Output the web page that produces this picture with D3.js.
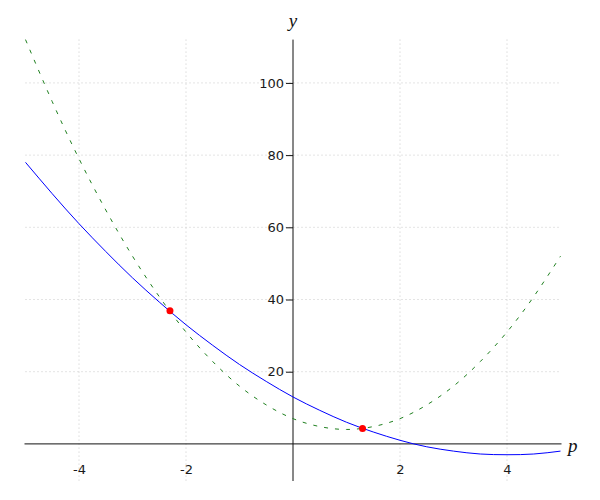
<!DOCTYPE html>
<html>
<head>
<meta charset="utf-8">
<script src="https://cdn.jsdelivr.net/npm/d3@7"></script>
<style>
  body { margin: 0; background: #fff; }
  .grid line { stroke: #c8c8c8; stroke-dasharray: 1,3; }
  .lbl { font-family: "Liberation Serif", serif; font-style: italic; font-size: 19px; fill: #111; }
</style>
</head>
<body>
<svg id="chart" width="600" height="500"></svg>
<script>
// values
var pVals =     [-5, -4.5, -4, -3.5, -3, -2.5, -2, -1.5, -1, -0.5, 0, 0.5, 1, 1.5, 2, 2.5, 3, 3.5, 4, 4.5, 5];
var blueVals =  [78, 69.3, 61, 53.3, 46, 39.3, 33, 27.3, 22, 17.3, 13, 9.3, 6, 3.3, 1, -0.8, -2, -2.8, -3, -2.8, -2];
var greenVals = [112, 94.8, 79, 64.8, 52, 40.8, 31, 22.8, 16, 10.8, 7, 4.8, 4, 4.8, 7, 10.8, 16, 22.8, 31, 40.8, 52];
var crossP = [-2.3, 1.3];
var crossY = [36.9, 4.3];
var xTicks = [-4, -2, 2, 4];
var yTicks = [20, 40, 60, 80, 100];

var svg = d3.select("#chart");

var x = d3.scaleLinear().domain([-5, 5]).range([25.5, 560.5]);
var y = d3.scaleLinear().domain([-10, 112]).range([480, 39.6]);

var line = function(vals) {
    return d3.line()
        .curve(d3.curveNatural)
        .x((d, i) => x(pVals[i]))
        .y(d => y(d))(vals);
};

// grid
var grid = svg.append("g").attr("class", "grid");
grid.selectAll(".v")
    .data(xTicks)
  .enter().append("line")
    .attr("x1", d => x(d)).attr("x2", d => x(d))
    .attr("y1", y(112)).attr("y2", 483);
grid.selectAll(".h")
    .data(yTicks)
  .enter().append("line")
    .attr("x1", x(-5)).attr("x2", x(5))
    .attr("y1", d => y(d)).attr("y2", d => y(d));

// axes
var xAxis = svg.append("g")
    .attr("transform", "translate(0," + y(0) + ")")
    .call(d3.axisBottom(x).tickValues(xTicks).tickSize(0).tickPadding(21)
        .tickFormat(d => d < 0 ? "-" + Math.abs(d) : d));
xAxis.select(".domain").attr("stroke", "#111").attr("d", "M" + (x(-5) - 1) + ",0H" + (x(5) + 1));

var yAxis = svg.append("g")
    .attr("transform", "translate(" + x(0) + ",0)")
    .call(d3.axisLeft(y).tickValues(yTicks).tickSize(7).tickPadding(2));
yAxis.select(".domain").attr("stroke", "#111").attr("d", "M0," + y(112) + "V" + 481);
yAxis.selectAll(".tick line").attr("stroke", "#111");

svg.selectAll(".tick text")
    .attr("font-family", "DejaVu Sans, sans-serif")
    .style("font-size", "13px")
    .attr("fill", "#1a1a1a");

svg.append("text").attr("class", "lbl")
    .attr("x", x(0)).attr("y", 27).attr("text-anchor", "middle").text("y");
svg.append("text").attr("class", "lbl")
    .attr("x", 568).attr("y", 452).text("p");

// curves
svg.append("path")
    .attr("d", line(greenVals))
    .attr("fill", "none")
    .attr("stroke", "#1f801f")
    .attr("stroke-width", 1)
    .attr("stroke-dasharray", "4,7");

svg.append("path")
    .attr("d", line(blueVals))
    .attr("fill", "none")
    .attr("stroke", "#0000ff")
    .attr("stroke-width", 1);

svg.selectAll(".dot")
    .data(crossP)
  .enter().append("circle")
    .attr("cx", d => x(d))
    .attr("cy", (d, i) => y(crossY[i]))
    .attr("r", 3.5)
    .attr("fill", "#ff0000");
</script>
</body>
</html>
